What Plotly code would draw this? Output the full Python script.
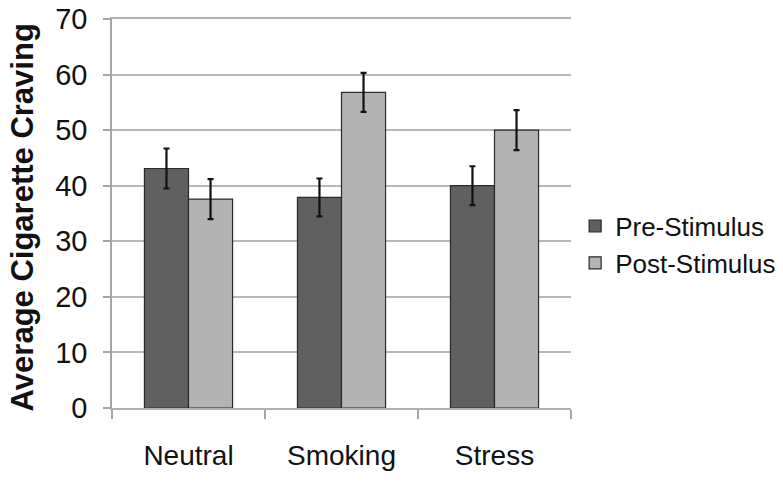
import plotly.graph_objects as go

categories = ["Neutral", "Smoking", "Stress"]
pre_values = [43.1, 37.9, 40.0]
pre_errors = [3.6, 3.4, 3.5]
post_values = [37.6, 56.8, 50.0]
post_errors = [3.6, 3.5, 3.6]
y_ticks = [0, 10, 20, 30, 40, 50, 60, 70]

FONT = "Liberation Sans, Arial, sans-serif"

fig = go.Figure()
fig.add_trace(go.Bar(
    name="Pre-Stimulus", x=categories, y=pre_values,
    marker=dict(color="#606060", line=dict(color="#2a2a2a", width=1.2)),
    error_y=dict(type="data", array=pre_errors, color="#111111", thickness=2.2, width=3),
))
fig.add_trace(go.Bar(
    name="Post-Stimulus", x=categories, y=post_values,
    marker=dict(color="#b3b3b3", line=dict(color="#2a2a2a", width=1.2)),
    error_y=dict(type="data", array=post_errors, color="#111111", thickness=2.2, width=3),
))

fig.update_layout(
    width=783, height=482,
    margin=dict(l=112, r=212, t=19, b=74, autoexpand=False),
    paper_bgcolor="white", plot_bgcolor="white",
    barmode="group", bargap=0.424, bargroupgap=0,
    font=dict(family=FONT, color="#111111", size=26),
    showlegend=True,
    legend=dict(x=1.009, y=0.42, xanchor="left", yanchor="middle",
                font=dict(size=26, family=FONT), itemwidth=30, tracegroupgap=6,
                bgcolor="rgba(0,0,0,0)"),
    xaxis=dict(
        automargin=False,
        showline=True, mirror=True, linecolor="#b0b0b0", linewidth=1.5,
        ticks="outside", tickson="boundaries", ticklen=9, tickcolor="#a6a6a6", tickwidth=1.5,
        tickfont=dict(size=28, family=FONT), showgrid=False, ticklabelstandoff=22,
    ),
    yaxis=dict(
        automargin=False,
        range=[0, 70], tickvals=y_ticks,
        showline=True, linecolor="#a6a6a6", linewidth=1.5,
        ticks="outside", ticklen=7, tickcolor="#a6a6a6", tickwidth=1.5,
        showgrid=True, gridcolor="#b8b8b8", gridwidth=1.5,
        zeroline=False, tickfont=dict(size=29, family=FONT), ticklabelstandoff=10,
        ticklabeloverflow="allow",
    ),
    annotations=[dict(
        text="<b>Average Cigarette Craving</b>", textangle=-90,
        xref="paper", yref="paper", x=(22 - 112) / 459, y=0.49,
        xanchor="center", yanchor="middle", showarrow=False,
        font=dict(size=31, family=FONT, color="#111111"),
    )],
)

fig.write_html("out.html", config={"displayModeBar": False},
               post_script="document.body.style.margin='0';")
